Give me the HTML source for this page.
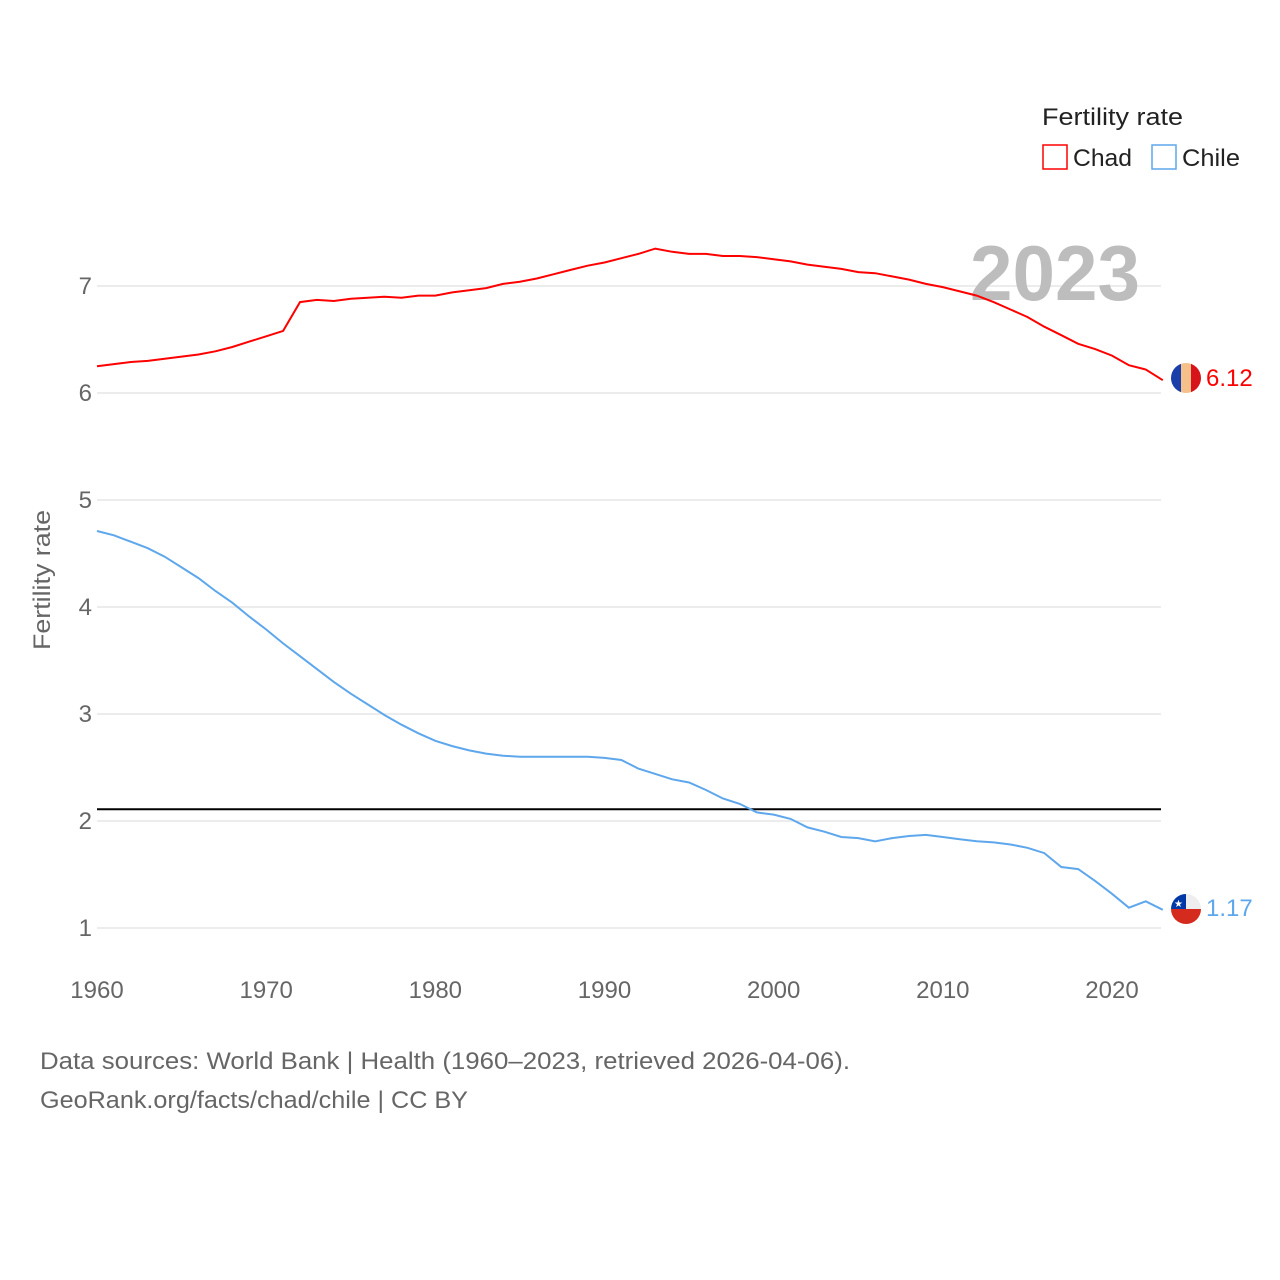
<!DOCTYPE html>
<html><head><meta charset="utf-8">
<style>
html,body{margin:0;padding:0;background:#fff;}
svg{display:block;font-family:"Liberation Sans",sans-serif;}
</style></head>
<body>
<svg id="chart" width="1280" height="1280" viewBox="0 0 1280 1280" xmlns="http://www.w3.org/2000/svg">
  <g id="grid"></g>
  <g id="yticks"></g>
  <g id="xticks"></g>
  <text x="50" y="580" transform="rotate(-90 50 580)" text-anchor="middle" font-size="24" fill="#666" textLength="140" lengthAdjust="spacingAndGlyphs">Fertility rate</text>
  <text x="1140" y="300" text-anchor="end" font-size="78" font-weight="bold" fill="#bdbdbd" textLength="170" lengthAdjust="spacingAndGlyphs">2023</text>
  <line id="refline" stroke="#000" stroke-width="2"/>
  <path id="chad" fill="none" stroke="#ff0000" stroke-width="2"/>
  <path id="chile" fill="none" stroke="#5ea7ec" stroke-width="2"/>
  <g id="chadflag">
    <clipPath id="c1"><circle cx="1186" cy="378" r="15"/></clipPath>
    <g clip-path="url(#c1)">
      <rect x="1171" y="363" width="10" height="30" fill="#1a3fa8"/>
      <rect x="1181" y="363" width="10" height="30" fill="#f5c08a"/>
      <rect x="1191" y="363" width="10" height="30" fill="#d7141a"/>
    </g>
  </g>
  <text id="chadval" x="1206" y="386" font-size="24" fill="#ff0000">6.12</text>
  <g id="chileflag">
    <clipPath id="c2"><circle cx="1186" cy="909" r="15"/></clipPath>
    <g clip-path="url(#c2)">
      <rect x="1171" y="894" width="30" height="15" fill="#eeeeee"/>
      <rect x="1171" y="909" width="30" height="15" fill="#d52b1e"/>
      <rect x="1171" y="894" width="15" height="15" fill="#0039a6"/>
      <text x="1178.5" y="907" font-size="10" fill="#fff" text-anchor="middle">★</text>
    </g>
  </g>
  <text id="chileval" x="1206" y="916" font-size="24" fill="#5ea7ec">1.17</text>
  <text x="1042" y="125" font-size="24" fill="#222" textLength="141" lengthAdjust="spacingAndGlyphs">Fertility rate</text>
  <rect x="1043" y="145" width="24" height="24" fill="none" stroke="#ff0000" stroke-width="1.5"/>
  <text x="1073" y="166" font-size="24" fill="#222" textLength="59" lengthAdjust="spacingAndGlyphs">Chad</text>
  <rect x="1152" y="145" width="24" height="24" fill="none" stroke="#5ea7ec" stroke-width="1.5"/>
  <text x="1182" y="166" font-size="24" fill="#222" textLength="58" lengthAdjust="spacingAndGlyphs">Chile</text>
  <text x="40" y="1069" font-size="24" fill="#666" textLength="810" lengthAdjust="spacingAndGlyphs">Data sources: World Bank | Health (1960–2023, retrieved 2026-04-06).</text>
  <text x="40" y="1108" font-size="24" fill="#666" textLength="428" lengthAdjust="spacingAndGlyphs">GeoRank.org/facts/chad/chile | CC BY</text>
</svg>
<script>
const years = [1960,1961,1962,1963,1964,1965,1966,1967,1968,1969,1970,1971,1972,1973,1974,1975,1976,1977,1978,1979,1980,1981,1982,1983,1984,1985,1986,1987,1988,1989,1990,1991,1992,1993,1994,1995,1996,1997,1998,1999,2000,2001,2002,2003,2004,2005,2006,2007,2008,2009,2010,2011,2012,2013,2014,2015,2016,2017,2018,2019,2020,2021,2022,2023];
const chadValues = [6.25,6.27,6.29,6.30,6.32,6.34,6.36,6.39,6.43,6.48,6.53,6.58,6.85,6.87,6.86,6.88,6.89,6.90,6.89,6.91,6.91,6.94,6.96,6.98,7.02,7.04,7.07,7.11,7.15,7.19,7.22,7.26,7.30,7.35,7.32,7.30,7.30,7.28,7.28,7.27,7.25,7.23,7.20,7.18,7.16,7.13,7.12,7.09,7.06,7.02,6.99,6.95,6.91,6.85,6.78,6.71,6.62,6.54,6.46,6.41,6.35,6.26,6.22,6.12];
const chileValues = [4.71,4.67,4.61,4.55,4.47,4.37,4.27,4.15,4.04,3.91,3.79,3.66,3.54,3.42,3.30,3.19,3.09,2.99,2.90,2.82,2.75,2.70,2.66,2.63,2.61,2.60,2.60,2.60,2.60,2.60,2.59,2.57,2.49,2.44,2.39,2.36,2.29,2.21,2.16,2.08,2.06,2.02,1.94,1.90,1.85,1.84,1.81,1.84,1.86,1.87,1.85,1.83,1.81,1.80,1.78,1.75,1.70,1.57,1.55,1.44,1.32,1.19,1.25,1.17];
const yTicks = [1,2,3,4,5,6,7];
const xTicks = [1960,1970,1980,1990,2000,2010,2020];
const replacementRate = [2.11];

const NS = "http://www.w3.org/2000/svg";
const x = yr => 97 + (yr - 1960) * (1112 - 97) / 60;
const y = v => 928 - (v - 1) * 107;

const grid = document.getElementById('grid');
const yt = document.getElementById('yticks');
yTicks.forEach(t => {
  const l = document.createElementNS(NS, 'line');
  
  
  l.setAttribute('x1', 97); l.setAttribute('x2', 1161);
  l.setAttribute('y1', y(t)); l.setAttribute('y2', y(t));
  l.setAttribute('stroke', '#e6e6e6'); l.setAttribute('stroke-width', '1.5');
  grid.appendChild(l);
  const tx = document.createElementNS(NS, 'text');
  
  
  tx.setAttribute('x', 92); tx.setAttribute('y', y(t) + 8);
  tx.setAttribute('text-anchor', 'end'); tx.setAttribute('font-size', '24'); tx.setAttribute('fill', '#666');
  tx.textContent = t;
  yt.appendChild(tx);
});
const xt = document.getElementById('xticks');
xTicks.forEach(t => {
  const tx = document.createElementNS(NS, 'text');
  
  
  tx.setAttribute('x', x(t)); tx.setAttribute('y', 998);
  tx.setAttribute('text-anchor', 'middle'); tx.setAttribute('font-size', '24'); tx.setAttribute('fill', '#666');
  tx.textContent = t;
  xt.appendChild(tx);
});
const rl = document.getElementById('refline');
rl.setAttribute('x1', 97); rl.setAttribute('x2', 1161);
rl.setAttribute('y1', y(replacementRate[0])); rl.setAttribute('y2', y(replacementRate[0]));

const pathFor = vals => vals.map((v, i) => (i ? 'L' : 'M') + x(years[i]).toFixed(1) + ',' + y(v).toFixed(1)).join(' ');
document.getElementById('chad').setAttribute('d', pathFor(chadValues));
document.getElementById('chile').setAttribute('d', pathFor(chileValues));
document.getElementById('chadval').textContent = chadValues[chadValues.length - 1].toFixed(2);
document.getElementById('chileval').textContent = chileValues[chileValues.length - 1].toFixed(2);
</script>
</body></html>
